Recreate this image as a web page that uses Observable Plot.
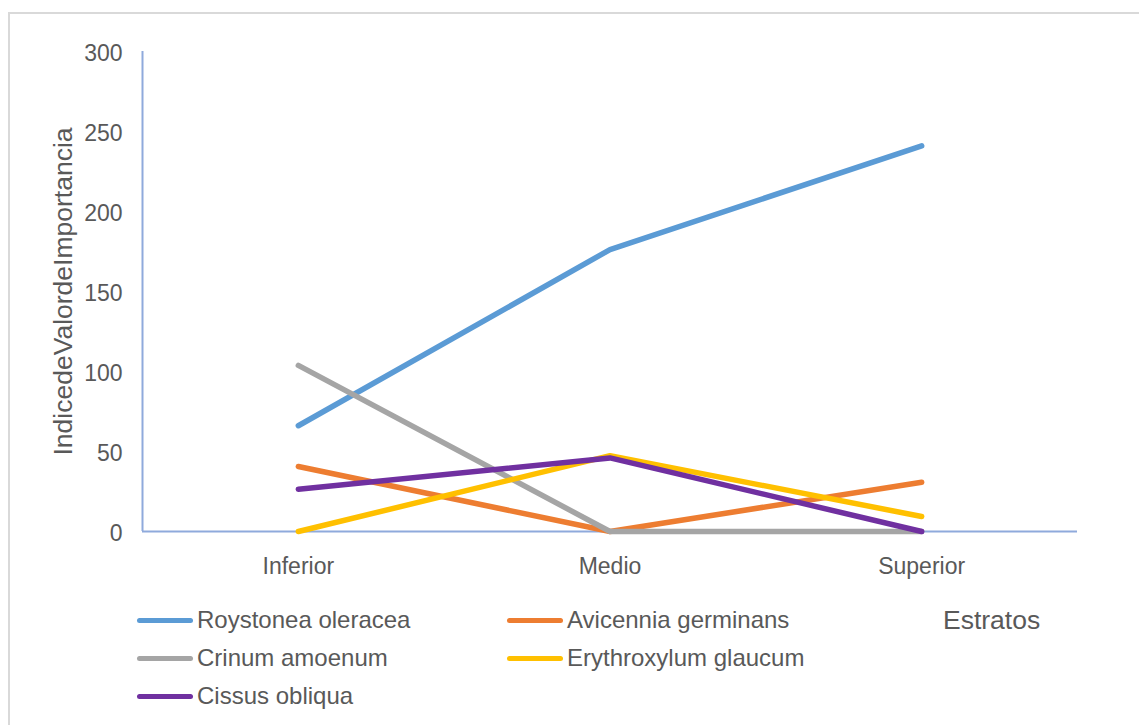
<!DOCTYPE html>
<html>
<head>
<meta charset="utf-8">
<script src="https://cdn.jsdelivr.net/npm/d3@7"></script>
<script src="https://cdn.jsdelivr.net/npm/@observablehq/plot@0.6"></script>
<style>
  html, body { margin: 0; padding: 0; background: #fff; overflow: hidden; }
  #wrap { position: relative; width: 1139px; height: 725px; font-family: "Liberation Sans", Arial, sans-serif; color: #595959; }
  #frame { position: absolute; left: 8px; top: 12px; width: 1200px; height: 800px; border: 2px solid #d9d9d9; box-sizing: border-box; }
  #chart { position: absolute; left: 0; top: 0; }
  .lg { position: absolute; display: flex; align-items: center; font-size: 24px; white-space: nowrap; }
  .sw { width: 56px; height: 5px; border-radius: 3px; margin-right: 4px; }
  #xlabel { position: absolute; left: 943px; top: 605px; font-size: 26.5px; }
</style>
</head>
<body>
<div id="wrap">
  <div id="frame"></div>
  <div id="chart"></div>
  <div id="xlabel">Estratos</div>
</div>
<script>
const estratos = ["Inferior", "Medio", "Superior"];
const species = ["Roystonea oleracea", "Avicennia germinans", "Crinum amoenum", "Erythroxylum glaucum", "Cissus obliqua"];
const colors = ["#5B9BD5", "#ED7D31", "#A5A5A5", "#FFC000", "#7030A0"];
const roystonea = [66.1, 176.2, 241.0];
const avicennia = [40.6, 0, 30.8];
const crinum = [103.8, 0, 0];
const erythroxylum = [0, 47.4, 9.4];
const cissus = [26.4, 46.0, 0];
const yTicks = [0, 50, 100, 150, 200, 250, 300];
const yLabel = "IndicedeValordeImportancia";

const seriesValues = [roystonea, avicennia, crinum, erythroxylum, cissus];
const data = [];
seriesValues.forEach((vals, s) => vals.forEach((v, i) => data.push({species: species[s], idx: i, value: v})));

const textColor = "#595959";
const axisColor = "#8FAADC";

const chart = Plot.plot({
  width: 1139,
  height: 600,
  marginLeft: 142,
  marginRight: 62,
  marginTop: 51,
  marginBottom: 69,
  style: { fontFamily: "'Liberation Sans', Arial, sans-serif", color: textColor, background: "transparent", overflow: "visible" },
  x: { domain: [-0.5, 2.5], label: null },
  y: { domain: [0, 300], label: null },
  color: { domain: species, range: colors },
  marks: [
    Plot.ruleX([-0.5], { y1: 0, y2: 300, stroke: axisColor, strokeWidth: 2 }),
    Plot.ruleY([0], { x1: -0.5, x2: 2.5, stroke: axisColor, strokeWidth: 2 }),
    Plot.axisY({ ticks: yTicks, tickSize: 0, tickPadding: 20, fontSize: 23, fill: textColor, dy: 2.5, label: null }),
    Plot.axisX({ ticks: [0, 1, 2], tickFormat: i => estratos[i], tickSize: 0, tickPadding: 26, fontSize: 23, fill: textColor, label: null }),
    ...species.map(sp => Plot.line(data.filter(d => d.species === sp), {
      x: "idx", y: "value", stroke: "species", strokeWidth: 5.5, strokeLinecap: "round", strokeLinejoin: "round"
    })),
    Plot.text([yLabel], { frameAnchor: "left", rotate: -90, dx: -79, fontSize: 26.5, fill: textColor, textAnchor: "middle" })
  ]
});
document.getElementById("chart").appendChild(chart);

const wrap = document.getElementById("wrap");
const cols = [137, 507];
const rows = [620, 658, 696];
species.forEach((sp, i) => {
  const el = document.createElement("div");
  el.className = "lg";
  el.style.left = cols[i % 2] + "px";
  el.style.top = (rows[Math.floor(i / 2)] - 16) + "px";
  el.style.height = "32px";
  el.innerHTML = `<div class="sw" style="background:${colors[i]}"></div><span>${sp}</span>`;
  wrap.appendChild(el);
});
</script>
</body>
</html>
